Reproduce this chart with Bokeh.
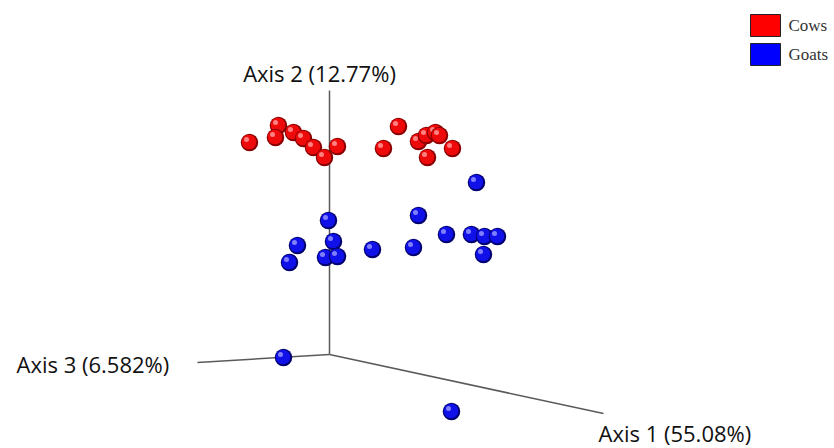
from bokeh.plotting import figure
from bokeh.models import Range1d, ColumnDataSource
from bokeh.embed import file_html
from bokeh.resources import INLINE
from bokeh.core.properties import value

# Projected PCoA coordinates (screen-projected, origin at axes intersection)
cows_x = [-80, -51, -54, -36, -26, -16, -5, 8, 69, 54, 89, 97, 106, 110, 98, 123]
cows_y = [212, 229, 217, 222, 216, 207, 197, 208, 228, 206, 213, 219, 222, 219, 197, 206]
goats_x = [-1, -32, -40, 4, -4, 8, 43, 89, 84, 117, 142, 155, 168, 154, 147, -46, 122]
goats_y = [134, 109, 92, 113, 97, 98, 105, 139, 107, 120, 120, 118, 118, 100, 172, -3, -57]

axis_labels = ["Axis 1 (55.08%)", "Axis 2 (12.77%)", "Axis 3 (6.582%)"]
groups = ["Cows", "Goats"]
colors = {"Cows": ("#8a0000", "#ee0a0a", "#ff8080"), "Goats": ("#00006e", "#1010e8", "#8080ff")}

W, H = 834, 448
p = figure(width=W, height=H, output_backend="svg", toolbar_location=None,
           x_range=Range1d(-329, -329 + W), y_range=Range1d(354 - H, 354),
           min_border=0, outline_line_color=None)
p.axis.visible = False
p.grid.visible = False
p.background_fill_color = "white"
p.border_fill_color = "white"

# 3D axes
ax_col = "#5a5a5a"
p.line([0, 0], [0, 264], line_color=ax_col, line_width=1.5)
p.line([0, -132], [0, -8], line_color=ax_col, line_width=1.5)
p.line([0, 274], [0, -59], line_color=ax_col, line_width=1.5)

# spheres: build layered source (rim, body, highlight) per point
xs, ys, sz, fc = [], [], [], []
def add(group, gx, gy):
    rim, body, hi = colors[group]
    for x, y in zip(gx, gy):
        xs.extend([x, x - 0.5, x - 3])
        ys.extend([y, y + 0.5, y + 3])
        sz.extend([17.5, 14.5, 5])
        fc.extend([rim, body, hi])
add("Cows", cows_x, cows_y)
add("Goats", goats_x, goats_y)
src = ColumnDataSource(dict(x=xs, y=ys, size=sz, color=fc))
p.scatter("x", "y", size="size", fill_color="color", line_color=None, source=src)

# axis labels
font = value("Open Sans")
fs = "22px"
p.text([-10], [282], text=[axis_labels[1]], text_font=font, text_font_size=fs,
       text_align="center", text_baseline="middle", text_color="#111111")
p.text([-313], [-9], text=[axis_labels[2]], text_font=font, text_font_size=fs,
       text_align="left", text_baseline="middle", text_color="#111111")
p.text([269], [-78], text=[axis_labels[0]], text_font=font, text_font_size=fs,
       text_align="left", text_baseline="middle", text_color="#111111")

# legend
p.rect([436, 436], [329, 300], width=30, height=22,
       fill_color=["#ff0000", "#0000ff"], line_color="#222222", line_width=1)
p.text([459, 459], [329, 300], text=groups, text_font=value("Liberation Serif"),
       text_font_size="17px", text_baseline="middle", text_color="#333333")

open("out.html", "w").write(file_html(p, INLINE))
